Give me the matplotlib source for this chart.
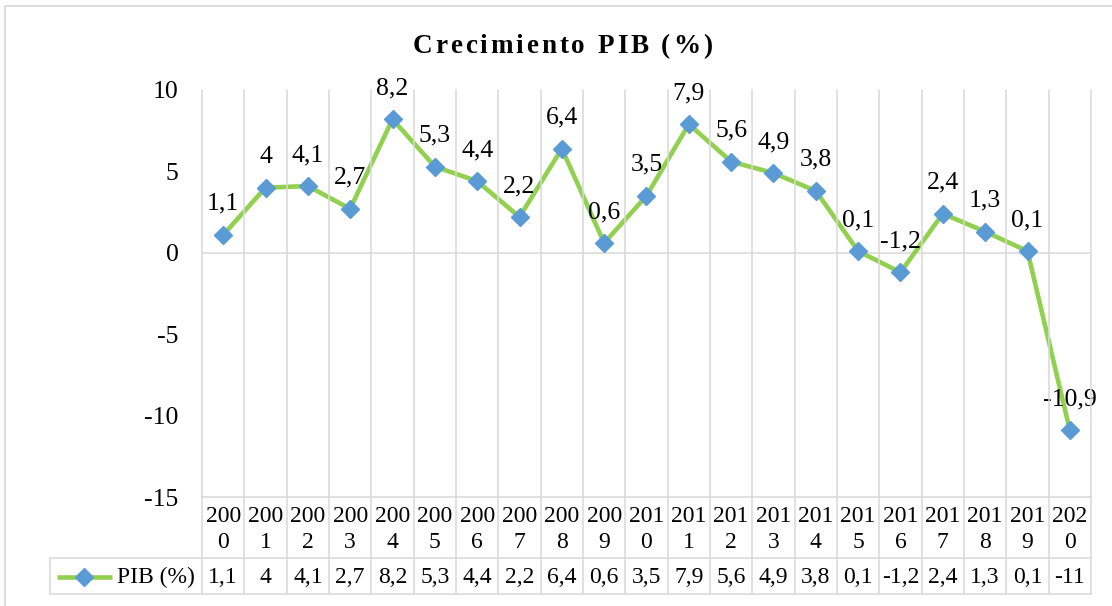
import matplotlib
matplotlib.use('Agg')
import matplotlib.pyplot as plt
from matplotlib.transforms import blended_transform_factory
from matplotlib.lines import Line2D

# ---- data ----
years = [str(y) for y in range(2000, 2021)]
pib = [1.1, 4, 4.1, 2.7, 8.2, 5.3, 4.4, 2.2, 6.4, 0.6, 3.5,
       7.9, 5.6, 4.9, 3.8, 0.1, -1.2, 2.4, 1.3, 0.1, -10.9]
table_labels = ['1,1', '4', '4,1', '2,7', '8,2', '5,3', '4,4', '2,2', '6,4', '0,6', '3,5',
                '7,9', '5,6', '4,9', '3,8', '0,1', '-1,2', '2,4', '1,3', '0,1', '-11']
yticks = [10, 5, 0, -5, -10, -15]
series_name = 'PIB (%)'
title = 'Crecimiento PIB (%)'

# ---- style ----
W, H = 1112, 606
FONT = 'Liberation Serif'
GREEN = '#92D050'
BLUE = '#5B9BD5'
GRID = '#D9D9D9'
LBL = 18.5
TBL = 17

fig = plt.figure(figsize=(W / 100, H / 100), dpi=100)
fig.patch.set_facecolor('white')


def fy(px):
    return 1 - px / H


def fx(px):
    return px / W


ax = fig.add_axes([fx(202), fy(497), (1091 - 202) / W, (497 - 90) / H])
xs = list(range(len(years)))
ax.plot(xs, pib, color=GREEN, lw=3.3, marker='D', ms=9, mfc=BLUE, mec=BLUE,
        zorder=4, solid_joinstyle='round', solid_capstyle='round')
ax.set_xlim(-0.5, len(years) - 0.5)
ax.set_ylim(-15, 10)
ax.set_xticks([])
ax.set_yticks(yticks)
ax.set_yticklabels([str(v) for v in yticks], fontfamily=FONT, fontsize=LBL)
ax.tick_params(axis='y', length=0, pad=17)
for s in ax.spines.values():
    s.set_visible(False)
ax.axhline(0, color=GRID, lw=1.1, zorder=1)

for xi, v in zip(xs, pib):
    txt = ('%g' % v).replace('.', ',')
    ax.annotate(txt, (xi, v), xytext=(0, 18), textcoords='offset points',
                ha='center', va='baseline', fontsize=LBL, fontfamily=FONT, zorder=5)

# ---- data table ----
trans = blended_transform_factory(ax.transData, fig.transFigure)
for k in range(len(years) + 1):
    fig.add_artist(Line2D([k - 0.5, k - 0.5], [fy(90), fy(594)], color=GRID, lw=1.1,
                          transform=trans, zorder=1))
fig.add_artist(Line2D([fx(202), fx(1091)], [fy(497)] * 2, color=GRID, lw=1.1,
                      transform=fig.transFigure))
for yy in (558, 594):
    fig.add_artist(Line2D([fx(50), fx(1091)], [fy(yy)] * 2, color=GRID, lw=1.1,
                          transform=fig.transFigure))
fig.add_artist(Line2D([fx(50), fx(50)], [fy(558), fy(594)], color=GRID, lw=1.1,
                      transform=fig.transFigure))

for i, yr in enumerate(years):
    ax.text(i, fy(522), yr[:3], transform=trans, ha='center', va='baseline',
            fontsize=TBL, fontfamily=FONT)
    ax.text(i, fy(548), yr[3:], transform=trans, ha='center', va='baseline',
            fontsize=TBL, fontfamily=FONT)
    ax.text(i, fy(583), table_labels[i], transform=trans, ha='center', va='baseline',
            fontsize=TBL, fontfamily=FONT)

# legend key
fig.add_artist(Line2D([fx(57), fx(112)], [fy(577)] * 2, color=GREEN, lw=3.3,
                      transform=fig.transFigure, solid_capstyle='butt'))
fig.add_artist(Line2D([fx(84)], [fy(577)], marker='D', ms=9, mfc=BLUE, mec=BLUE,
                      lw=0, transform=fig.transFigure))
fig.text(fx(117), fy(583), series_name, ha='left', va='baseline', fontsize=TBL,
         fontfamily=FONT)

# outer chart border
fig.add_artist(Line2D([fx(5), fx(5), 1.0], [0.0, fy(6), fy(6)], color=GRID, lw=1.3,
                      transform=fig.transFigure))

# ---- letter-spaced title ----
renderer = fig.canvas.get_renderer()
tkw = dict(fontsize=19.5, fontfamily=FONT, fontweight='bold')


def width(s):
    t = fig.text(0, 0, s + '|', **tkw)
    w = t.get_window_extent(renderer).width
    t.remove()
    return w


bar_w = width('')
base_w = width(title) - bar_w
total_target = 300.0
spacing = (total_target - base_w) / (len(title) - 1)
left = 562.5 - total_target / 2
for i, ch in enumerate(title):
    if ch == ' ':
        continue
    off = width(title[:i]) - bar_w if i > 0 else 0.0
    fig.text(fx(left + off + i * spacing), fy(53), ch, ha='left', va='baseline', **tkw)

fig.savefig('out.png', dpi=100)
